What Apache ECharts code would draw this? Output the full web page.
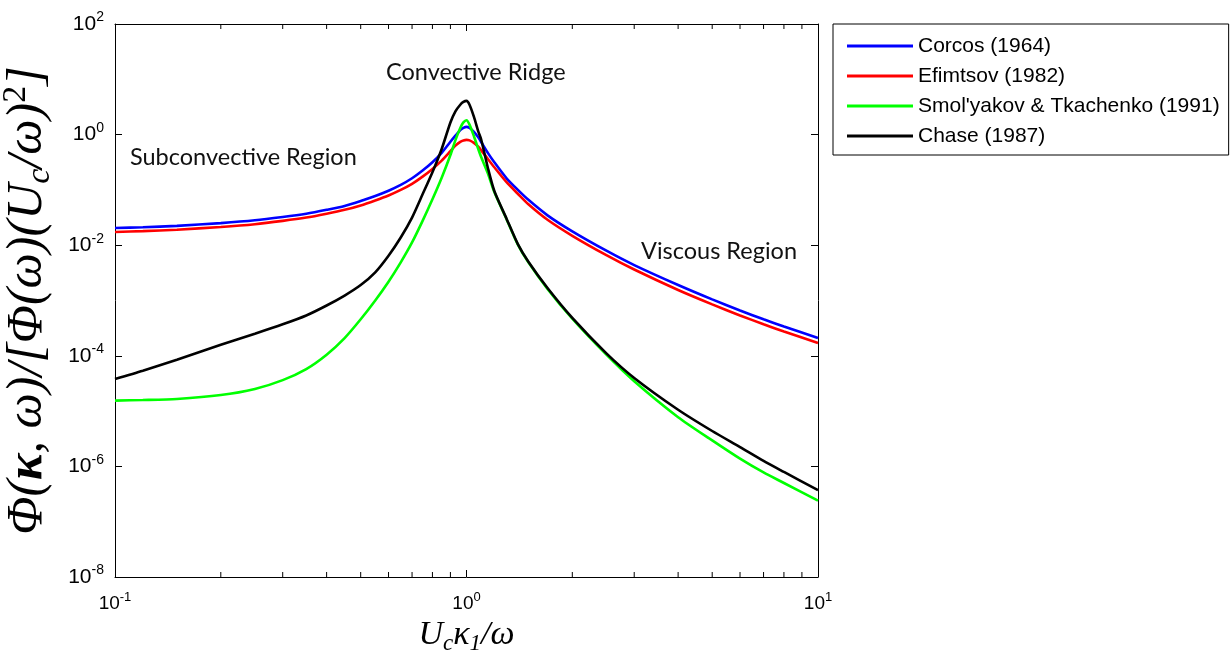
<!DOCTYPE html>
<html>
<head>
<meta charset="utf-8">
<script src="https://cdn.jsdelivr.net/npm/echarts@6/dist/echarts.min.js"></script>
<style>
  html, body { margin: 0; padding: 0; background: #fff; }
  #chart { width: 1230px; height: 664px; }
</style>
</head>
<body>
<div id="chart"></div>
<script>
// Normalised wavenumber U_c*k1/omega
const kx = [0.1, 0.12, 0.15, 0.2, 0.25, 0.3, 0.35, 0.4, 0.45, 0.5, 0.55, 0.6, 0.65, 0.7, 0.75, 0.8, 0.85,
            0.9, 0.93, 0.96, 0.98, 1.0, 1.02, 1.05, 1.08, 1.1, 1.15, 1.2, 1.3, 1.4, 1.5, 1.7, 2, 2.5, 3, 4,
            5, 6, 7, 8, 10];

// Spectrum levels, stored as powers of ten (decades)
const corcosExp = [-1.69, -1.675, -1.65, -1.60, -1.55, -1.49, -1.43, -1.36, -1.29, -1.20, -1.11, -1.015,
                   -0.91, -0.79, -0.65, -0.50, -0.33, -0.13, -0.02, 0.08, 0.12, 0.14, 0.12, 0.05, -0.05,
                   -0.13, -0.33, -0.50, -0.79, -1.00, -1.18, -1.46, -1.75, -2.10, -2.36, -2.72, -2.98,
                   -3.18, -3.34, -3.47, -3.68];
const efimtsovExp = [-1.76, -1.745, -1.72, -1.67, -1.62, -1.56, -1.50, -1.43, -1.36, -1.28, -1.19, -1.10,
                     -1.00, -0.89, -0.76, -0.62, -0.47, -0.30, -0.20, -0.13, -0.105, -0.095, -0.105, -0.15,
                     -0.22, -0.28, -0.44, -0.59, -0.86, -1.07, -1.26, -1.54, -1.83, -2.18, -2.44, -2.81,
                     -3.07, -3.27, -3.43, -3.56, -3.77];
const smolyakovExp = [-4.81, -4.80, -4.78, -4.71, -4.60, -4.44, -4.24, -3.98, -3.68, -3.34, -3.00, -2.66,
                      -2.31, -1.95, -1.56, -1.17, -0.78, -0.37, -0.10, 0.12, 0.22, 0.26, 0.18, -0.03,
                      -0.26, -0.40, -0.70, -1.04, -1.53, -1.99, -2.31, -2.79, -3.33, -3.98, -4.46, -5.11,
                      -5.53, -5.86, -6.11, -6.30, -6.62];
const chaseExp = [-4.42, -4.27, -4.07, -3.80, -3.60, -3.43, -3.27, -3.09, -2.91, -2.72, -2.49, -2.19,
                  -1.86, -1.50, -1.08, -0.68, -0.26, 0.22, 0.42, 0.54, 0.59, 0.61, 0.54, 0.32, 0.06,
                  -0.08, -0.60, -1.02, -1.52, -1.98, -2.30, -2.775, -3.315, -3.955, -4.40, -4.975, -5.36,
                  -5.65, -5.90, -6.10, -6.43];

const seriesNames = ['Corcos (1964)', 'Efimtsov (1982)', "Smol'yakov & Tkachenko (1991)", 'Chase (1987)'];
const seriesColors = ['#0000ff', '#ff0000', '#00ff00', '#000000'];
const seriesExps = [corcosExp, efimtsovExp, smolyakovExp, chaseExp];

// Axis limits and minor tick positions on the wavenumber axis
const X_MIN = 0.1, X_MAX = 10;
const Y_MIN = 1e-8, Y_MAX = 1e2;
const xMinorTicks = [0.2, 0.3, 0.4, 0.5, 0.6, 0.7, 0.8, 0.9, 2, 3, 4, 5, 6, 7, 8, 9];

const toPairs = exps => kx.map((x, i) => [x, Math.pow(10, exps[i])]);

const chart = echarts.init(document.getElementById('chart'), null, { renderer: 'canvas' });

const sansFont = '"Liberation Sans", Arial, sans-serif';
const mathFont = '"Liberation Serif", "Times New Roman", serif';
const noteFont = '23.5px Lato, "Open Sans", sans-serif';

const powerLabel = (v) => {
  const e = Math.round(Math.log10(v));
  return '{b|10}{e|' + e + '}';
};

const tickRich = (size, expSize) => ({
  b: { fontFamily: sansFont, fontSize: size, color: '#000', lineHeight: size + 6 },
  e: { fontFamily: sansFont, fontSize: expSize, color: '#000', lineHeight: expSize, verticalAlign: 'top' }
});

const mathRich = (size) => ({
  i: { fontFamily: mathFont, fontStyle: 'italic', fontSize: size, color: '#000', lineHeight: size + 8 },
  k: { fontFamily: mathFont, fontStyle: 'italic', fontWeight: 'bold', fontSize: size, color: '#000', lineHeight: size + 8 },
  sub: { fontFamily: mathFont, fontStyle: 'italic', fontSize: Math.round(size * 0.68), color: '#000',
         lineHeight: Math.round(size * 0.68), verticalAlign: 'bottom' },
  sup: { fontFamily: mathFont, fontSize: Math.round(size * 0.68), color: '#000',
         lineHeight: Math.round(size * 0.68), verticalAlign: 'top' }
});

const lineSeries = seriesNames.map((name, i) => ({
  name: name,
  type: 'line',
  data: toPairs(seriesExps[i]),
  showSymbol: false,
  symbol: 'none',
  smooth: 0.25,
  lineStyle: { color: seriesColors[i], width: 2.6 },
  itemStyle: { color: seriesColors[i] },
  emphasis: { disabled: true },
  z: 3 + i
}));

// Minor ticks on the bottom and top edges of the wavenumber axis
const minorTickSeries = {
  type: 'custom',
  silent: true,
  data: xMinorTicks.map(v => [v, Y_MIN]),
  encode: { x: 0, y: 1 },
  renderItem: (params, api) => {
    const v = api.value(0);
    const b = api.coord([v, Y_MIN]);
    const t = api.coord([v, Y_MAX]);
    const len = 5;
    return {
      type: 'group',
      children: [
        { type: 'line', shape: { x1: b[0], y1: b[1], x2: b[0], y2: b[1] - len }, style: { stroke: '#000', lineWidth: 1 } },
        { type: 'line', shape: { x1: t[0], y1: t[1], x2: t[0], y2: t[1] + len }, style: { stroke: '#000', lineWidth: 1 } }
      ]
    };
  },
  z: 10
};

const option = {
  animation: false,
  backgroundColor: '#fff',
  grid: { left: 115, right: 412, top: 24, bottom: 87, show: false, containLabel: false, outerBoundsMode: 'none' },
  legend: {
    data: seriesNames,
    orient: 'vertical',
    left: 833,
    top: 24,
    padding: [11, 9, 8, 14],
    itemGap: 8,
    itemWidth: 66,
    itemHeight: 3,
    icon: 'rect',
    borderColor: '#000',
    borderWidth: 1,
    selectedMode: false,
    textStyle: { fontFamily: sansFont, fontSize: 21, color: '#000', lineHeight: 22 }
  },
  xAxis: [
    {
      type: 'log', logBase: 10, min: X_MIN, max: X_MAX,
      name: '{i|U}{sub|c}{i|κ}{sub|1}{i|/ω}',
      nameLocation: 'middle', nameGap: 33,
      nameTextStyle: { rich: mathRich(34) },
      axisLine: { show: true, lineStyle: { color: '#000', width: 1 } },
      axisTick: { show: true, inside: true, length: 7, lineStyle: { color: '#000' } },
      minorTick: { show: false },
      splitLine: { show: false },
      axisLabel: { formatter: powerLabel, margin: 14, rich: tickRich(19, 13) }
    },
    {
      type: 'log', logBase: 10, min: X_MIN, max: X_MAX, position: 'top',
      axisLine: { show: true, lineStyle: { color: '#000', width: 1 } },
      axisTick: { show: true, inside: true, length: 7, lineStyle: { color: '#000' } },
      splitLine: { show: false },
      axisLabel: { show: false }
    }
  ],
  yAxis: [
    {
      type: 'log', logBase: 100, min: Y_MIN, max: Y_MAX,
      name: '{i|Φ(}{k|κ}{i|, ω)/[Φ(ω)(U}{sub|c}{i|/ω)}{sup|2}{i|]}',
      nameLocation: 'middle', nameGap: 44, nameRotate: 90,
      nameTextStyle: { rich: mathRich(50) },
      axisLine: { show: true, lineStyle: { color: '#000', width: 1 } },
      axisTick: { show: true, inside: true, length: 7, lineStyle: { color: '#000' } },
      splitLine: { show: false },
      axisLabel: { formatter: powerLabel, margin: 11, rich: tickRich(21, 14) }
    },
    {
      type: 'log', logBase: 100, min: Y_MIN, max: Y_MAX, position: 'right',
      axisLine: { show: true, lineStyle: { color: '#000', width: 1 } },
      axisTick: { show: true, inside: true, length: 7, lineStyle: { color: '#000' } },
      splitLine: { show: false },
      axisLabel: { show: false }
    }
  ],
  graphic: [
    { type: 'text', left: 386, top: 60, style: { text: 'Convective Ridge', font: noteFont, fill: '#111' } },
    { type: 'text', left: 130, top: 145, style: { text: 'Subconvective Region', font: noteFont, fill: '#111' } },
    { type: 'text', left: 641, top: 239, style: { text: 'Viscous Region', font: noteFont, fill: '#111' } }
  ],
  series: lineSeries.concat([minorTickSeries])
};

chart.setOption(option);
</script>
</body>
</html>
